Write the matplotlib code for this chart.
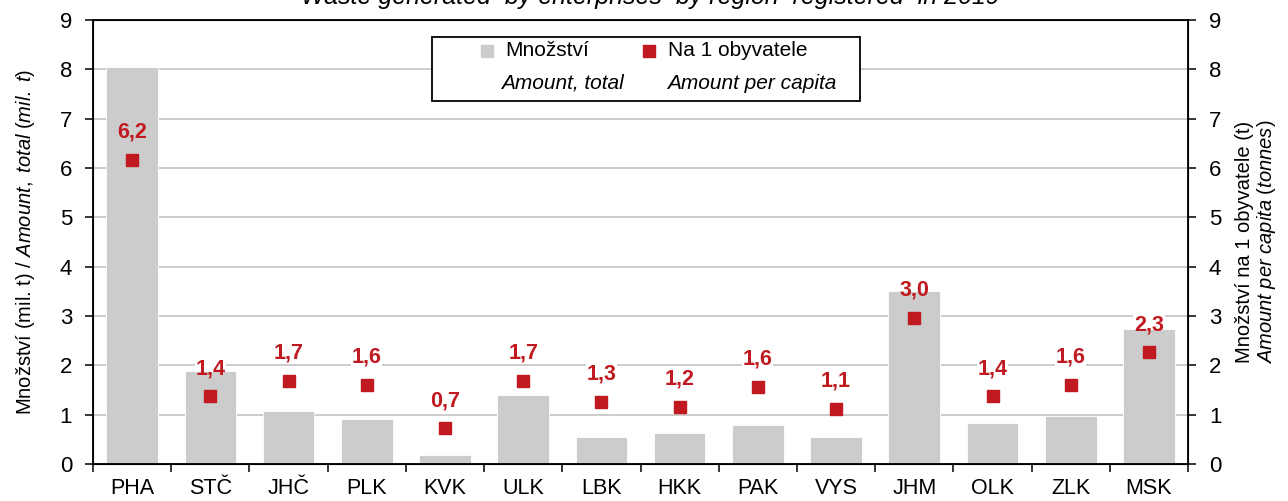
import numpy as np
import matplotlib.pyplot as plt
import matplotlib.transforms as mtransforms

plt.rcParams['font.family'] = ['Liberation Sans', 'DejaVu Sans']
plt.rcParams['mathtext.fontset'] = 'custom'
plt.rcParams['mathtext.rm'] = 'Liberation Sans'
plt.rcParams['mathtext.it'] = 'Liberation Sans:italic'

# data
kraje = ['PHA', 'STČ', 'JHČ', 'PLK', 'KVK', 'ULK', 'LBK', 'HKK', 'PAK', 'VYS', 'JHM', 'OLK', 'ZLK', 'MSK']
mnozstvi = [8.05, 1.89, 1.07, 0.91, 0.18, 1.40, 0.55, 0.63, 0.79, 0.55, 3.51, 0.83, 0.98, 2.74]
na_obyvatele = [6.17, 1.37, 1.69, 1.61, 0.72, 1.69, 1.26, 1.16, 1.57, 1.12, 2.96, 1.37, 1.61, 2.26]

seda = '#cccccc'
cervena = '#c0191f'

fig = plt.figure(figsize=(12.88, 5.01), dpi=100)
ax = fig.add_axes([0.0722, 0.0739, 0.8502, 0.8862])
x = np.arange(len(kraje))

ax.set_axisbelow(True)
ax.bar(x, mnozstvi, width=0.66, color=seda, edgecolor='white', linewidth=0.6, zorder=1)
ax.set_xlim(-0.5, len(kraje) - 0.5)
ax.set_ylim(0, 9)
ax.set_yticks(range(10))
ax.yaxis.grid(True, color='#bfbfbf', linewidth=1.1)
ax.set_xticks(x)
ax.set_xticklabels(kraje, fontsize=15.5)
ax.set_xticks(np.arange(-0.5, len(kraje)), minor=True)
ax.tick_params(axis='x', which='major', length=0, pad=10)
ax.tick_params(axis='x', which='minor', length=6, width=1.1, direction='out')
ax.tick_params(axis='y', length=6, width=1.1, labelsize=16, pad=9)
for s in ax.spines.values():
    s.set_linewidth(1.3)
ax.set_ylabel(r'Množství (mil. t) / $\it{Amount,\ total\ (mil.\ t)}$', fontsize=14.5, labelpad=16)

ax2 = ax.twinx()
ax2.set_ylim(0, 9)
ax2.set_yticks(range(10))
ax2.tick_params(axis='y', length=6, width=1.1, labelsize=16, pad=9)
ax2.plot(x, na_obyvatele, 's', color=cervena, markersize=9.3, zorder=3)
posun = mtransforms.ScaledTranslation(0, 0.28, fig.dpi_scale_trans)
for xi, v in zip(x, na_obyvatele):
    txt = '{:.1f}'.format(v).replace('.', ',')
    # white box only hides gridlines, bars stay on top of it
    ax.text(xi, v, txt, ha='center', va='center', fontsize=15.5, fontweight='bold', color='none',
            bbox=dict(facecolor='white', edgecolor='none', pad=0.5), zorder=0.8,
            transform=ax.transData + posun)
    ax2.annotate(txt, (xi, v), xytext=(0, 20), textcoords='offset points', ha='center', va='center',
                 fontsize=15.5, fontweight='bold', color=cervena, zorder=4)
ax2.set_ylabel('Množství na 1 obyvatele (t)\n' + r'$\it{Amount\ per\ capita\ (tonnes)}$', fontsize=14.5,
               labelpad=10, linespacing=1.05)

# legend drawn by hand (two lines of text per item)
lg = plt.Rectangle((0.3096, 0.8176), 0.3909, 0.1441, transform=ax.transAxes, facecolor='white',
                   edgecolor='black', linewidth=1.3, zorder=5)
ax2.add_patch(lg)
ax2.plot([0.3598], [0.9302], 's', color=seda, markersize=8, transform=ax.transAxes, zorder=6, clip_on=False)
ax2.plot([0.5078], [0.9302], 's', color=cervena, markersize=8, transform=ax.transAxes, zorder=6, clip_on=False)
ax2.text(0.3763, 0.9302, 'Množství', transform=ax.transAxes, fontsize=15, va='center', zorder=6)
ax2.text(0.3727, 0.8580, 'Amount, total', transform=ax.transAxes, fontsize=15, va='center', style='italic', zorder=6)
ax2.text(0.5251, 0.9302, 'Na 1 obyvatele', transform=ax.transAxes, fontsize=15, va='center', zorder=6)
ax2.text(0.5242, 0.8580, 'Amount per capita', transform=ax.transAxes, fontsize=15, va='center', style='italic', zorder=6)

fig.text(0.505, 1.005, 'Waste generated  by enterprises  by region  registered  in 2019', ha='center', va='center',
         fontsize=18, style='italic')

fig.savefig('out.png', dpi=100)
